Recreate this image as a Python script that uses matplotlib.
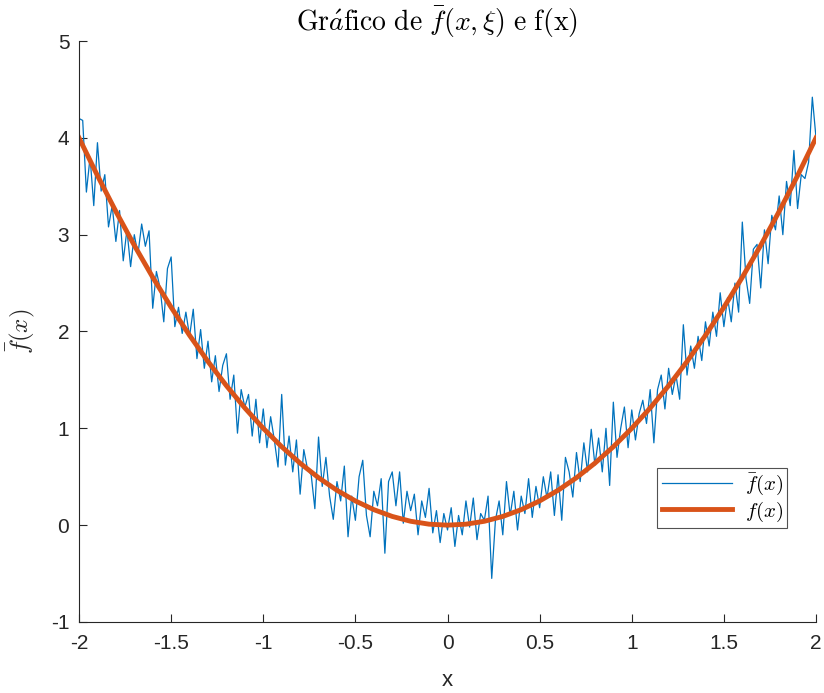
import numpy as np
from matplotlib import pyplot as plt

# f(x), step 0.1 from -2 to 2
f_smooth = [4.00, 3.61, 3.24, 2.89, 2.56, 2.25, 1.96, 1.69, 1.44, 1.21,
            1.00, 0.81, 0.64, 0.49, 0.36, 0.25, 0.16, 0.09, 0.04, 0.01,
            0.00,
            0.01, 0.04, 0.09, 0.16, 0.25, 0.36, 0.49, 0.64, 0.81, 1.00,
            1.21, 1.44, 1.69, 1.96, 2.25, 2.56, 2.89, 3.24, 3.61, 4.00]

# noisy f_bar(x, xi), step 0.02 from -2 to 2
f_noisy = [4.20, 4.18, 3.44, 3.80, 3.30, 3.95, 3.45, 3.62, 3.08, 3.30,
           2.93, 3.25, 2.73, 3.05, 2.67, 3.00, 2.80, 3.11, 2.88, 3.04,
           2.24, 2.62, 2.45, 2.10, 2.65, 2.77, 2.05, 2.25, 1.98, 2.20,
           1.95, 2.23, 1.72, 2.02, 1.62, 1.90, 1.48, 1.75, 1.38, 1.65,
           1.77, 1.30, 1.55, 0.95, 1.40, 1.22, 1.35, 0.92, 1.30, 0.85,
           1.20, 0.80, 1.12, 0.88, 0.60, 1.35, 0.62, 0.92, 0.55, 0.88,
           0.32, 0.78, 0.58, 0.52, 0.17, 0.91, 0.40, 0.70, 0.30, 0.06,
           0.45, 0.25, 0.61, -0.12, 0.30, 0.05, 0.50, 0.67, 0.10, -0.12,
           0.35, 0.20, 0.48, -0.29, 0.45, 0.55, 0.20, 0.55, 0.02, 0.35,
           0.15, 0.32, -0.10, 0.25, 0.08, 0.38, -0.08, 0.15, -0.18, 0.12,
           -0.05,
           0.18, -0.22, 0.10, -0.10, 0.25, -0.02, 0.28, -0.15, 0.12, 0.05,
           0.30, -0.55, 0.05, 0.25, -0.10, 0.45, 0.10, 0.35, -0.05, 0.30,
           0.12, 0.48, 0.08, 0.40, 0.18, 0.50, 0.28, 0.55, 0.10, 0.52,
           0.05, 0.70, 0.55, 0.29, 0.75, 0.45, 0.85, 0.55, 0.99, 0.62,
           0.90, 0.55, 1.00, 0.41, 1.27, 0.70, 1.00, 1.22, 0.80, 1.19,
           0.88, 1.15, 1.29, 1.05, 1.40, 0.85, 1.40, 1.55, 1.20, 1.62,
           1.35, 1.55, 1.30, 2.07, 1.55, 1.85, 1.62, 1.95, 1.70, 2.10,
           1.85, 2.20, 1.95, 2.40, 2.05, 2.35, 2.10, 2.50, 2.20, 3.13,
           2.55, 2.29, 2.85, 2.90, 2.45, 3.05, 2.70, 3.20, 3.05, 3.40,
           3.00, 3.55, 3.30, 3.87, 3.27, 3.62, 3.58, 3.75, 4.42, 4.00]

x_smooth = np.linspace(-2, 2, len(f_smooth))
x_noisy = np.linspace(-2, 2, len(f_noisy))

x_ticks = [-2, -1.5, -1, -0.5, 0, 0.5, 1, 1.5, 2]
x_ticklabels = ["-2", "-1.5", "-1", "-0.5", "0", "0.5", "1", "1.5", "2"]
y_ticks = [-1, 0, 1, 2, 3, 4, 5]

plt.rcParams["font.family"] = ["Liberation Sans", "DejaVu Sans"]
plt.rcParams["mathtext.fontset"] = "cm"
plt.rcParams["axes.unicode_minus"] = False

fig = plt.figure(figsize=(8.24, 6.93), dpi=100)
ax = fig.add_axes([0.0959, 0.1025, 0.8944, 0.8383])

ax.plot(x_noisy, f_noisy, color="#0072BD", lw=0.9, label=r"$\bar{f}(x)$")
ax.plot(x_smooth, f_smooth, color="#D95319", lw=3.5, label=r"$f(x)$")

ax.set_xlim(-2, 2)
ax.set_ylim(-1, 5)
ax.set_xticks(x_ticks)
ax.set_xticklabels(x_ticklabels)
ax.set_yticks(y_ticks)

# matlab look: box off, inward ticks
for side in ["top", "right"]:
    ax.spines[side].set_visible(False)
for side in ["left", "bottom"]:
    ax.spines[side].set_color("0.15")
    ax.spines[side].set_linewidth(0.8)
ax.tick_params(direction="in", length=6, width=0.8, colors="0.15",
               labelsize=15)
ax.tick_params(axis="x", pad=9)
ax.tick_params(axis="y", pad=7)

ax.set_xlabel("x", fontsize=16, color="0.15", labelpad=12)
ax.set_ylabel(r"$\bar{f}(x)$", fontsize=18, color="0.15", labelpad=10)
ax.set_title(r"$\mathrm{Gr}\acute{a}\mathrm{fico\ de\ }\bar{f}(x,\xi)\mathrm{\ e\ f(x)}$",
             fontsize=20, pad=7, x=0.486)

leg = ax.legend(loc="lower right", bbox_to_anchor=(0.961, 0.162),
                fancybox=False, fontsize=15, handlelength=3.4,
                borderpad=0.2, labelspacing=0.1, handletextpad=0.6,
                borderaxespad=0)
leg.get_frame().set_edgecolor("0.15")
leg.get_frame().set_linewidth(0.8)

fig.savefig("out.png", dpi=100)
